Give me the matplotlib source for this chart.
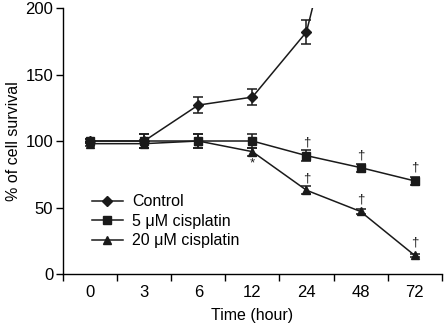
import numpy as np
import matplotlib
matplotlib.use("Agg")
import matplotlib.pyplot as plt
from matplotlib.lines import Line2D

plt.rcParams['font.family'] = ['Liberation Sans', 'DejaVu Sans']

times = ["0", "3", "6", "12", "24", "48", "72"]
control = [100, 100, 127, 133, 182, 345, np.nan]
control_err = [1.5, 5, 6, 6, 9, 0, 0]
cis5 = [100, 100, 100, 100, 89, 80, 70]
cis5_err = [1.5, 5, 5, 5, 4, 3, 3]
cis20 = [98, 98, 100, 92, 63, 47, 14]
cis20_err = [1.5, 3, 5, 3, 3, 2, 1]
star_marks = [(3, 83)]
dagger_marks = [(4, 99), (5, 89), (6, 80), (4, 72), (5, 56), (6, 24)]

fig = plt.figure(figsize=(4.45, 3.28), dpi=100)
ax = fig.add_axes([0.1416, 0.1646, 0.851, 0.811])
x = np.arange(len(times))
col = '#1a1a1a'
kw = dict(color=col, lw=1.1, capsize=3.6, elinewidth=1.1, capthick=1.1, ms=5.5, mfc=col, mec=col)
ax.errorbar(x, control, yerr=control_err, marker='D', **{**kw, 'ms': 5})
ax.errorbar(x, cis5, yerr=cis5_err, marker='s', **kw)
ax.errorbar(x, cis20, yerr=cis20_err, marker='^', **{**kw, 'ms': 6})

for xi, yv in star_marks:
    ax.text(xi, yv, '*', ha='center', va='center', fontsize=9.5, color=col)
for xi, yv in dagger_marks:
    ax.text(xi, yv, '†', ha='center', va='center', fontsize=9.5, color=col)

ax.set_xlim(-0.5, 6.5)
ax.set_ylim(0, 200)
ax.set_yticks([0, 50, 100, 150, 200])
ax.set_xticks(x)
ax.set_xticklabels(times)
ax.tick_params(axis='x', which='major', length=0, labelsize=12, pad=8)
ax.set_xticks(np.arange(-0.5, 7, 1), minor=True)
ax.tick_params(axis='x', which='minor', length=5, width=1, direction='out')
ax.tick_params(axis='y', length=5, width=1, labelsize=12, pad=2)
for s in ['top', 'right']:
    ax.spines[s].set_visible(False)
for s in ['left', 'bottom']:
    ax.spines[s].set_linewidth(1)
ax.set_xlabel('Time (hour)', fontsize=11.5, labelpad=6)
ax.set_ylabel('% of cell survival', fontsize=11.5, labelpad=3)
handles = [Line2D([], [], color=col, lw=1.1, marker='D', ms=5, mfc=col, mec=col),
           Line2D([], [], color=col, lw=1.1, marker='s', ms=5.5, mfc=col, mec=col),
           Line2D([], [], color=col, lw=1.1, marker='^', ms=6, mfc=col, mec=col)]
labels = ['Control', '5 μM cisplatin', '20 μM cisplatin']
ax.legend(handles, labels, loc='upper left', bbox_to_anchor=(0.077, 0.30), frameon=False, fontsize=11.5,
          handlelength=1.9, handletextpad=0.6, labelspacing=0.28, borderpad=0, borderaxespad=0)
fig.savefig('out.png', dpi=100)
